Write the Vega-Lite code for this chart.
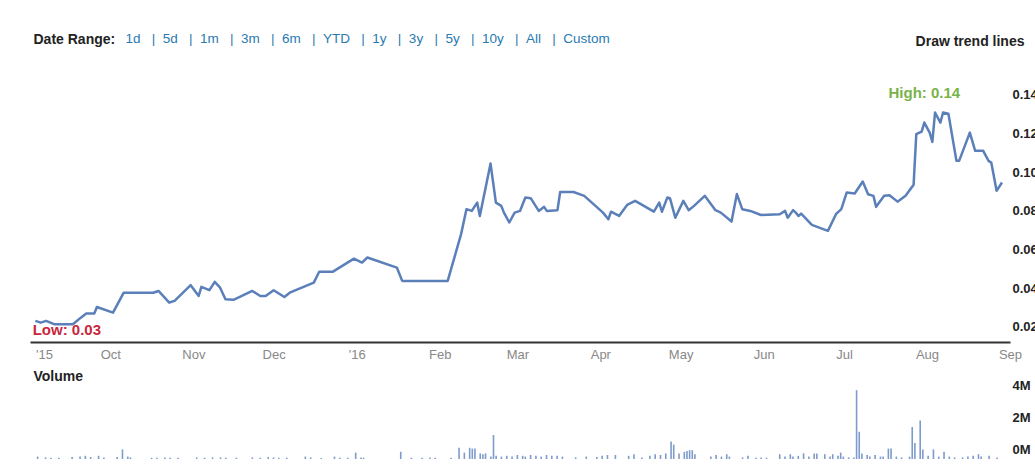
{
  "$schema": "https://vega.github.io/schema/vega-lite/v6.json",
  "background": "white",
  "padding": {"left": 30, "top": 31, "right": 0, "bottom": 0},
  "config": {
    "font": "Liberation Sans",
    "view": {"stroke": null},
    "axis": {"labelFont": "Liberation Sans", "titleFont": "Liberation Sans", "grid": false, "ticks": false, "domain": false}
  },
  "bounds": "flush",
  "spacing": 35,
  "resolve": {"scale": {"x": "independent", "y": "independent"}},
  "vconcat": [
    {
      "width": 980,
      "height": 261,
      "layer": [
        {
          "data": {"values": [
            {"date": "2015-09-03", "price": 0.0231}, {"date": "2015-09-05", "price": 0.0222}, {"date": "2015-09-07", "price": 0.0231},
            {"date": "2015-09-10", "price": 0.0214}, {"date": "2015-09-17", "price": 0.0214}, {"date": "2015-09-20", "price": 0.0248},
            {"date": "2015-09-22", "price": 0.0269}, {"date": "2015-09-25", "price": 0.0269}, {"date": "2015-09-26", "price": 0.0303},
            {"date": "2015-10-02", "price": 0.0274}, {"date": "2015-10-06", "price": 0.0377}, {"date": "2015-10-17", "price": 0.0377},
            {"date": "2015-10-19", "price": 0.0386}, {"date": "2015-10-23", "price": 0.0326}, {"date": "2015-10-25", "price": 0.0335},
            {"date": "2015-10-31", "price": 0.0416}, {"date": "2015-11-03", "price": 0.0360}, {"date": "2015-11-04", "price": 0.0407},
            {"date": "2015-11-07", "price": 0.0390}, {"date": "2015-11-09", "price": 0.0433}, {"date": "2015-11-11", "price": 0.0403},
            {"date": "2015-11-13", "price": 0.0343}, {"date": "2015-11-16", "price": 0.0340}, {"date": "2015-11-23", "price": 0.0386},
            {"date": "2015-11-26", "price": 0.0360}, {"date": "2015-11-28", "price": 0.0360}, {"date": "2015-12-01", "price": 0.0390},
            {"date": "2015-12-05", "price": 0.0355}, {"date": "2015-12-07", "price": 0.0377}, {"date": "2015-12-16", "price": 0.0429},
            {"date": "2015-12-18", "price": 0.0485}, {"date": "2015-12-23", "price": 0.0485}, {"date": "2015-12-31", "price": 0.0553},
            {"date": "2016-01-03", "price": 0.0533}, {"date": "2016-01-05", "price": 0.0559}, {"date": "2016-01-16", "price": 0.0507},
            {"date": "2016-01-18", "price": 0.0438}, {"date": "2016-02-04", "price": 0.0438}, {"date": "2016-02-09", "price": 0.0680},
            {"date": "2016-02-11", "price": 0.0809}, {"date": "2016-02-13", "price": 0.0800}, {"date": "2016-02-15", "price": 0.0843},
            {"date": "2016-02-16", "price": 0.0774}, {"date": "2016-02-20", "price": 0.1045}, {"date": "2016-02-22", "price": 0.0843},
            {"date": "2016-02-24", "price": 0.0826}, {"date": "2016-02-25", "price": 0.0791}, {"date": "2016-02-27", "price": 0.0740},
            {"date": "2016-02-29", "price": 0.0791}, {"date": "2016-03-02", "price": 0.0800}, {"date": "2016-03-04", "price": 0.0869},
            {"date": "2016-03-06", "price": 0.0866}, {"date": "2016-03-09", "price": 0.0800}, {"date": "2016-03-11", "price": 0.0821},
            {"date": "2016-03-12", "price": 0.0800}, {"date": "2016-03-16", "price": 0.0804}, {"date": "2016-03-17", "price": 0.0898},
            {"date": "2016-03-22", "price": 0.0898}, {"date": "2016-03-26", "price": 0.0878}, {"date": "2016-04-02", "price": 0.0791},
            {"date": "2016-04-04", "price": 0.0757}, {"date": "2016-04-05", "price": 0.0796}, {"date": "2016-04-08", "price": 0.0774},
            {"date": "2016-04-11", "price": 0.0831}, {"date": "2016-04-14", "price": 0.0852}, {"date": "2016-04-21", "price": 0.0796},
            {"date": "2016-04-23", "price": 0.0843}, {"date": "2016-04-24", "price": 0.0796}, {"date": "2016-04-26", "price": 0.0869},
            {"date": "2016-04-27", "price": 0.0866}, {"date": "2016-04-29", "price": 0.0765}, {"date": "2016-05-02", "price": 0.0852},
            {"date": "2016-05-04", "price": 0.0804}, {"date": "2016-05-06", "price": 0.0826}, {"date": "2016-05-10", "price": 0.0878},
            {"date": "2016-05-14", "price": 0.0804}, {"date": "2016-05-16", "price": 0.0791}, {"date": "2016-05-20", "price": 0.0745},
            {"date": "2016-05-22", "price": 0.0887}, {"date": "2016-05-24", "price": 0.0809}, {"date": "2016-05-27", "price": 0.0800},
            {"date": "2016-05-31", "price": 0.0779}, {"date": "2016-06-07", "price": 0.0783}, {"date": "2016-06-09", "price": 0.0800},
            {"date": "2016-06-10", "price": 0.0765}, {"date": "2016-06-12", "price": 0.0804}, {"date": "2016-06-13", "price": 0.0791},
            {"date": "2016-06-14", "price": 0.0774}, {"date": "2016-06-15", "price": 0.0786}, {"date": "2016-06-19", "price": 0.0728},
            {"date": "2016-06-25", "price": 0.0697}, {"date": "2016-06-28", "price": 0.0783}, {"date": "2016-06-30", "price": 0.0809},
            {"date": "2016-07-02", "price": 0.0895}, {"date": "2016-07-05", "price": 0.0890}, {"date": "2016-07-08", "price": 0.0952},
            {"date": "2016-07-10", "price": 0.0886}, {"date": "2016-07-12", "price": 0.0878}, {"date": "2016-07-13", "price": 0.0821},
            {"date": "2016-07-16", "price": 0.0878}, {"date": "2016-07-18", "price": 0.0881}, {"date": "2016-07-21", "price": 0.0848},
            {"date": "2016-07-24", "price": 0.0878}, {"date": "2016-07-27", "price": 0.0935}, {"date": "2016-07-28", "price": 0.1197},
            {"date": "2016-07-30", "price": 0.1210}, {"date": "2016-07-31", "price": 0.1257}, {"date": "2016-08-02", "price": 0.1205},
            {"date": "2016-08-03", "price": 0.1157}, {"date": "2016-08-04", "price": 0.1309}, {"date": "2016-08-06", "price": 0.1257},
            {"date": "2016-08-07", "price": 0.1309}, {"date": "2016-08-09", "price": 0.1303}, {"date": "2016-08-12", "price": 0.1059},
            {"date": "2016-08-13", "price": 0.1059}, {"date": "2016-08-17", "price": 0.1205}, {"date": "2016-08-19", "price": 0.1111},
            {"date": "2016-08-22", "price": 0.1111}, {"date": "2016-08-24", "price": 0.1059}, {"date": "2016-08-25", "price": 0.1050},
            {"date": "2016-08-27", "price": 0.0904}, {"date": "2016-08-29", "price": 0.0947}
          ]},
          "mark": {"type": "line", "color": "#5b7fb9", "strokeWidth": 2.5, "strokeJoin": "round"},
          "encoding": {
            "x": {
              "field": "date", "type": "temporal",
              "scale": {"type": "utc", "nice": false, "domain": [{"year": 2015, "month": 9, "date": 1, "utc": true}, {"year": 2016, "month": 9, "date": 1, "utc": true}]},
              "axis": {
                "values": [
                  {"year": 2015, "month": 9, "date": 1, "utc": true}, {"year": 2015, "month": 10, "date": 1, "utc": true},
                  {"year": 2015, "month": 11, "date": 1, "utc": true}, {"year": 2015, "month": 12, "date": 1, "utc": true},
                  {"year": 2016, "month": 1, "date": 1, "utc": true}, {"year": 2016, "month": 2, "date": 1, "utc": true},
                  {"year": 2016, "month": 3, "date": 1, "utc": true}, {"year": 2016, "month": 4, "date": 1, "utc": true},
                  {"year": 2016, "month": 5, "date": 1, "utc": true}, {"year": 2016, "month": 6, "date": 1, "utc": true},
                  {"year": 2016, "month": 7, "date": 1, "utc": true}, {"year": 2016, "month": 8, "date": 1, "utc": true},
                  {"year": 2016, "month": 9, "date": 1, "utc": true}
                ],
                "labelExpr": "utcyear(datum.value) == 2015 && utcmonth(datum.value) == 8 ? \"'15\" : (utcmonth(datum.value) == 0 ? \"'16\" : utcFormat(datum.value, '%b'))",
                "labelFlush": false,
                "labelOverlap": false,
                "labelOffset": {"condition": {"test": "utcyear(datum.value) == 2015 && utcmonth(datum.value) == 8", "value": 14}, "value": 0},
                "labelColor": "#888888",
                "labelFontSize": 13,
                "labelPadding": 6,
                "domain": true,
                "domainColor": "#333333",
                "domainWidth": 2,
                "title": "Date Range:",
                "titleX": 3,
                "titleY": -303,
                "titleAlign": "left",
                "titleBaseline": "middle",
                "titleFontSize": 14,
                "titleFontWeight": "bold",
                "titleColor": "#222222"
              }
            },
            "y": {
              "field": "price", "type": "quantitative",
              "scale": {"domain": [0.0122, 0.1472], "nice": false, "zero": false},
              "axis": {
                "orient": "right",
                "values": [0.02, 0.04, 0.06, 0.08, 0.10, 0.12, 0.14],
                "format": ".2f",
                "labelFontWeight": "bold",
                "labelFontSize": 13,
                "labelColor": "#222222",
                "labelPadding": 2,
                "title": "Draw trend lines",
                "titleAngle": 0,
                "titleX": 14,
                "titleY": -40,
                "titleAlign": "right",
                "titleBaseline": "middle",
                "titleFontSize": 14,
                "titleFontWeight": "bold",
                "titleColor": "#222222"
              }
            }
          }
        },
        {
          "data": {"values": [{"label": "High: 0.14", "date": "2016-07-31", "price": 0.14}]},
          "mark": {"type": "text", "align": "center", "baseline": "middle", "dy": -2, "fontSize": 15, "fontWeight": "bold", "color": "#79b34a"},
          "encoding": {
            "x": {"field": "date", "type": "temporal"},
            "y": {"field": "price", "type": "quantitative"},
            "text": {"field": "label"}
          }
        },
        {
          "data": {"values": [{"label": "Low: 0.03", "date": "2015-09-02", "price": 0.03}]},
          "mark": {"type": "text", "align": "left", "baseline": "middle", "dy": 22, "fontSize": 15, "fontWeight": "bold", "color": "#c8283c"},
          "encoding": {
            "x": {"field": "date", "type": "temporal"},
            "y": {"field": "price", "type": "quantitative"},
            "text": {"field": "label"}
          }
        }
      ]
    },
    {
      "width": 980,
      "height": 82,
      "data": {"values": [
        {"date": "2015-09-02", "volume": 150000}, {"date": "2015-09-05", "volume": 100000}, {"date": "2015-09-07", "volume": 80000},
        {"date": "2015-09-10", "volume": 80000}, {"date": "2015-09-15", "volume": 120000}, {"date": "2015-09-18", "volume": 150000},
        {"date": "2015-09-20", "volume": 200000}, {"date": "2015-09-22", "volume": 120000}, {"date": "2015-09-25", "volume": 200000},
        {"date": "2015-09-27", "volume": 100000}, {"date": "2015-10-02", "volume": 120000}, {"date": "2015-10-04", "volume": 600000},
        {"date": "2015-10-06", "volume": 150000}, {"date": "2015-10-07", "volume": 100000}, {"date": "2015-10-15", "volume": 80000},
        {"date": "2015-10-17", "volume": 80000}, {"date": "2015-10-20", "volume": 100000}, {"date": "2015-10-22", "volume": 80000},
        {"date": "2015-10-25", "volume": 80000}, {"date": "2015-11-01", "volume": 100000}, {"date": "2015-11-04", "volume": 80000},
        {"date": "2015-11-07", "volume": 100000}, {"date": "2015-11-10", "volume": 100000}, {"date": "2015-11-12", "volume": 80000},
        {"date": "2015-11-16", "volume": 80000}, {"date": "2015-11-22", "volume": 100000}, {"date": "2015-11-25", "volume": 80000},
        {"date": "2015-11-28", "volume": 120000}, {"date": "2015-11-30", "volume": 100000}, {"date": "2015-12-02", "volume": 80000},
        {"date": "2015-12-05", "volume": 80000}, {"date": "2015-12-12", "volume": 150000}, {"date": "2015-12-14", "volume": 100000},
        {"date": "2015-12-18", "volume": 60000}, {"date": "2015-12-23", "volume": 150000}, {"date": "2015-12-25", "volume": 80000},
        {"date": "2015-12-28", "volume": 80000}, {"date": "2015-12-31", "volume": 400000}, {"date": "2016-01-02", "volume": 100000},
        {"date": "2016-01-03", "volume": 80000}, {"date": "2016-01-17", "volume": 450000}, {"date": "2016-01-21", "volume": 80000},
        {"date": "2016-01-25", "volume": 80000}, {"date": "2016-01-28", "volume": 100000}, {"date": "2016-01-30", "volume": 80000},
        {"date": "2016-02-05", "volume": 80000}, {"date": "2016-02-08", "volume": 700000}, {"date": "2016-02-10", "volume": 400000},
        {"date": "2016-02-12", "volume": 700000}, {"date": "2016-02-13", "volume": 650000}, {"date": "2016-02-14", "volume": 650000},
        {"date": "2016-02-16", "volume": 350000}, {"date": "2016-02-17", "volume": 300000}, {"date": "2016-02-18", "volume": 350000},
        {"date": "2016-02-20", "volume": 150000}, {"date": "2016-02-21", "volume": 1500000}, {"date": "2016-02-22", "volume": 200000},
        {"date": "2016-02-24", "volume": 150000}, {"date": "2016-02-26", "volume": 200000}, {"date": "2016-02-28", "volume": 150000},
        {"date": "2016-03-01", "volume": 250000}, {"date": "2016-03-03", "volume": 200000}, {"date": "2016-03-04", "volume": 150000},
        {"date": "2016-03-06", "volume": 250000}, {"date": "2016-03-08", "volume": 200000}, {"date": "2016-03-10", "volume": 150000},
        {"date": "2016-03-12", "volume": 250000}, {"date": "2016-03-14", "volume": 200000}, {"date": "2016-03-16", "volume": 200000},
        {"date": "2016-03-18", "volume": 150000}, {"date": "2016-03-23", "volume": 100000}, {"date": "2016-03-27", "volume": 150000},
        {"date": "2016-03-31", "volume": 120000}, {"date": "2016-04-02", "volume": 200000}, {"date": "2016-04-04", "volume": 250000},
        {"date": "2016-04-07", "volume": 250000}, {"date": "2016-04-12", "volume": 200000}, {"date": "2016-04-14", "volume": 300000},
        {"date": "2016-04-17", "volume": 100000}, {"date": "2016-04-20", "volume": 200000}, {"date": "2016-04-22", "volume": 300000},
        {"date": "2016-04-24", "volume": 250000}, {"date": "2016-04-26", "volume": 350000}, {"date": "2016-04-28", "volume": 1100000},
        {"date": "2016-04-29", "volume": 900000}, {"date": "2016-05-01", "volume": 350000}, {"date": "2016-05-03", "volume": 450000},
        {"date": "2016-05-04", "volume": 500000}, {"date": "2016-05-05", "volume": 550000}, {"date": "2016-05-06", "volume": 550000},
        {"date": "2016-05-07", "volume": 300000}, {"date": "2016-05-13", "volume": 150000}, {"date": "2016-05-15", "volume": 250000},
        {"date": "2016-05-17", "volume": 150000}, {"date": "2016-05-19", "volume": 300000}, {"date": "2016-05-20", "volume": 150000},
        {"date": "2016-05-25", "volume": 100000}, {"date": "2016-05-27", "volume": 200000}, {"date": "2016-05-30", "volume": 80000},
        {"date": "2016-06-01", "volume": 100000}, {"date": "2016-06-03", "volume": 80000}, {"date": "2016-06-08", "volume": 300000},
        {"date": "2016-06-10", "volume": 150000}, {"date": "2016-06-12", "volume": 300000}, {"date": "2016-06-13", "volume": 150000},
        {"date": "2016-06-15", "volume": 200000}, {"date": "2016-06-17", "volume": 350000}, {"date": "2016-06-19", "volume": 150000},
        {"date": "2016-06-21", "volume": 350000}, {"date": "2016-06-22", "volume": 350000}, {"date": "2016-06-25", "volume": 300000},
        {"date": "2016-06-27", "volume": 150000}, {"date": "2016-06-28", "volume": 300000}, {"date": "2016-06-30", "volume": 200000},
        {"date": "2016-07-01", "volume": 400000}, {"date": "2016-07-02", "volume": 150000}, {"date": "2016-07-04", "volume": 100000},
        {"date": "2016-07-06", "volume": 100000}, {"date": "2016-07-07", "volume": 4300000}, {"date": "2016-07-08", "volume": 1700000},
        {"date": "2016-07-09", "volume": 350000}, {"date": "2016-07-11", "volume": 250000}, {"date": "2016-07-12", "volume": 150000},
        {"date": "2016-07-14", "volume": 250000}, {"date": "2016-07-16", "volume": 150000}, {"date": "2016-07-17", "volume": 150000},
        {"date": "2016-07-19", "volume": 650000}, {"date": "2016-07-20", "volume": 650000}, {"date": "2016-07-22", "volume": 150000},
        {"date": "2016-07-24", "volume": 100000}, {"date": "2016-07-27", "volume": 150000}, {"date": "2016-07-28", "volume": 2000000},
        {"date": "2016-07-29", "volume": 1000000}, {"date": "2016-07-31", "volume": 2400000}, {"date": "2016-08-01", "volume": 600000},
        {"date": "2016-08-03", "volume": 200000}, {"date": "2016-08-05", "volume": 600000}, {"date": "2016-08-07", "volume": 150000},
        {"date": "2016-08-09", "volume": 450000}, {"date": "2016-08-11", "volume": 150000}, {"date": "2016-08-13", "volume": 100000},
        {"date": "2016-08-16", "volume": 100000}, {"date": "2016-08-18", "volume": 150000}, {"date": "2016-08-20", "volume": 200000},
        {"date": "2016-08-22", "volume": 300000}, {"date": "2016-08-23", "volume": 150000}, {"date": "2016-08-26", "volume": 200000},
        {"date": "2016-08-29", "volume": 100000}
      ]},
      "mark": {"type": "bar", "width": 1.6, "color": "#7d9bcb"},
      "encoding": {
        "x": {
          "field": "date", "type": "temporal",
          "scale": {"type": "utc", "nice": false, "domain": [{"year": 2015, "month": 9, "date": 1, "utc": true}, {"year": 2016, "month": 9, "date": 1, "utc": true}]},
          "axis": {
            "labels": false, "ticks": false, "domain": false, "grid": false,
            "title": "1d\u00a0\u00a0\u00a0|\u00a0\u00a05d\u00a0\u00a0\u00a0|\u00a0\u00a01m\u00a0\u00a0\u00a0|\u00a0\u00a03m\u00a0\u00a0\u00a0|\u00a0\u00a06m\u00a0\u00a0\u00a0|\u00a0\u00a0YTD\u00a0\u00a0\u00a0|\u00a0\u00a01y\u00a0\u00a0\u00a0|\u00a0\u00a03y\u00a0\u00a0\u00a0|\u00a0\u00a05y\u00a0\u00a0\u00a0|\u00a0\u00a010y\u00a0\u00a0\u00a0|\u00a0\u00a0All\u00a0\u00a0\u00a0|\u00a0\u00a0Custom",
            "titleX": 95,
            "titleY": -421,
            "titleAlign": "left",
            "titleBaseline": "middle",
            "titleFontSize": 13.5,
            "titleFontWeight": "normal",
            "titleColor": "#2a7ab0"
          }
        },
        "y": {
          "field": "volume", "type": "quantitative",
          "scale": {"domain": [0, 5125000], "nice": false},
          "axis": {
            "orient": "right",
            "values": [0, 2000000, 4000000],
            "labelExpr": "(datum.value / 1000000) + 'M'",
            "labelOffset": -10,
            "labelFontWeight": "bold",
            "labelFontSize": 13,
            "labelColor": "#222222",
            "labelPadding": 2,
            "title": "Volume",
            "titleAngle": 0,
            "titleX": -977,
            "titleY": -1,
            "titleAlign": "left",
            "titleBaseline": "middle",
            "titleFontSize": 14,
            "titleFontWeight": "bold",
            "titleColor": "#222222"
          }
        }
      }
    }
  ]
}
